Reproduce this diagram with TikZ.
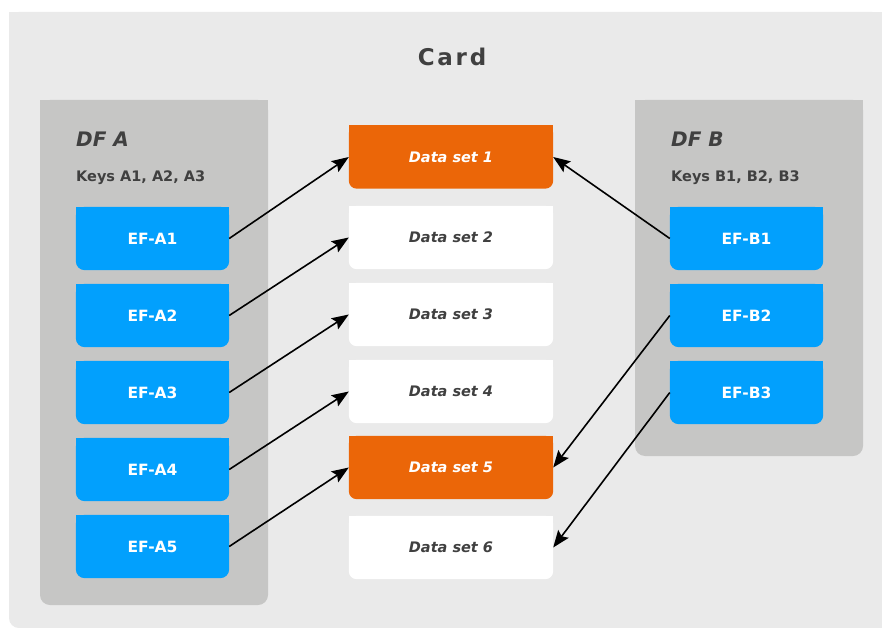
\documentclass[tikz,border=0pt]{standalone}
\usepackage{fontspec}
\setmainfont{DejaVu Sans}
\newfontfamily\titlefont[LetterSpace=12]{DejaVu Sans}
\usetikzlibrary{arrows.meta,backgrounds}

\definecolor{cardbg}{HTML}{EAEAEA}
\definecolor{panelgrey}{HTML}{C6C6C5}
\definecolor{efblue}{HTML}{02A0FD}
\definecolor{dsorange}{HTML}{EB6608}
\definecolor{inkgrey}{HTML}{404040}

\tikzset{
  efbox/.style={minimum width=153pt, minimum height=63pt, inner sep=0pt,
    text=white, font=\fontsize{15.5}{18}\selectfont\bfseries},
  dsbox/.style={minimum width=204pt, minimum height=63pt, inner sep=0pt,
    font=\fontsize{14.5}{17}\selectfont\bfseries\itshape},
  dshot/.style={dsbox, text=white},
  dsplain/.style={dsbox, text=inkgrey},
  dflabel/.style={anchor=base west, inner sep=0pt, text=inkgrey,
    font=\fontsize{20}{24}\selectfont\bfseries\itshape},
  keylabel/.style={anchor=base west, inner sep=0pt, text=inkgrey,
    font=\fontsize{14.5}{17}\selectfont\bfseries},
  link/.style={line width=1.6pt, -{Stealth[length=17pt, width=13pt, inset=3pt]}},
}

% fill a box whose bottom corners are rounded and top corners square
\newcommand{\roundbottom}[3]{%
  \fill[#1, rounded corners=#3] (#2.north west) rectangle (#2.south east);
  \fill[#1] (#2.north west) rectangle (#2.east);
}

\begin{document}
\begin{tikzpicture}[x=1pt, y=-1pt]
\useasboundingbox (0,0) rectangle (882,628);

\begin{scope}[on background layer]
  \fill[white] (0,0) rectangle (882,628);
  % card
  \fill[cardbg, rounded corners=10pt] (9,12) rectangle (882,628);
  \fill[cardbg] (9,12) rectangle (882,600);
  \fill[cardbg] (40,12) rectangle (882,628);
  % dedicated file panels
  \fill[panelgrey, rounded corners=10pt] (40,100) rectangle (268,605);
  \fill[panelgrey] (40,100) rectangle (268,140);
  \fill[panelgrey, rounded corners=10pt] (635,100) rectangle (863,456);
  \fill[panelgrey] (635,100) rectangle (863,140);
\end{scope}

\node[text=inkgrey, font=\titlefont\fontsize{23}{28}\selectfont\bfseries] (card) at (452,57) {Card};

\node[dflabel] (dfa) at (76,146.5) {DF A};
\node[keylabel] (keysa) at (76,182) {Keys A1, A2, A3};
\node[dflabel] (dfb) at (671,146.5) {DF B};
\node[keylabel] (keysb) at (671,182) {Keys B1, B2, B3};

% elementary files
\node[efbox] (a1) at (152.5,238.5) {EF-A1};
\node[efbox] (a2) at (152.5,315.5) {EF-A2};
\node[efbox] (a3) at (152.5,392.5) {EF-A3};
\node[efbox] (a4) at (152.5,469.5) {EF-A4};
\node[efbox] (a5) at (152.5,546.5) {EF-A5};
\node[efbox] (b1) at (746.5,238.5) {EF-B1};
\node[efbox] (b2) at (746.5,315.5) {EF-B2};
\node[efbox] (b3) at (746.5,392.5) {EF-B3};

% data sets
\node[dshot]   (d1) at (451,157)   {Data set 1};
\node[dsplain] (d2) at (451,237.5) {Data set 2};
\node[dsplain] (d3) at (451,314.5) {Data set 3};
\node[dsplain] (d4) at (451,391.5) {Data set 4};
\node[dshot]   (d5) at (451,467.5) {Data set 5};
\node[dsplain] (d6) at (451,547.5) {Data set 6};

\begin{scope}[on background layer]
  \foreach \n in {a1,a2,a3,a4,a5,b1,b2,b3}{\roundbottom{efblue}{\n}{9pt}}
  \foreach \n in {d1,d5}{\roundbottom{dsorange}{\n}{8pt}}
  \foreach \n in {d2,d3,d4,d6}{\roundbottom{white}{\n}{8pt}}
\end{scope}

% access links
\draw[link] (a1.east) -- (d1.west);
\draw[link] (a2.east) -- (d2.west);
\draw[link] (a3.east) -- (d3.west);
\draw[link] (a4.east) -- (d4.west);
\draw[link] (a5.east) -- (d5.west);
\draw[link] (b1.west) -- (d1.east);
\draw[link] (b2.west) -- (d5.east);
\draw[link] (b3.west) -- (d6.east);
\end{tikzpicture}
\end{document}
